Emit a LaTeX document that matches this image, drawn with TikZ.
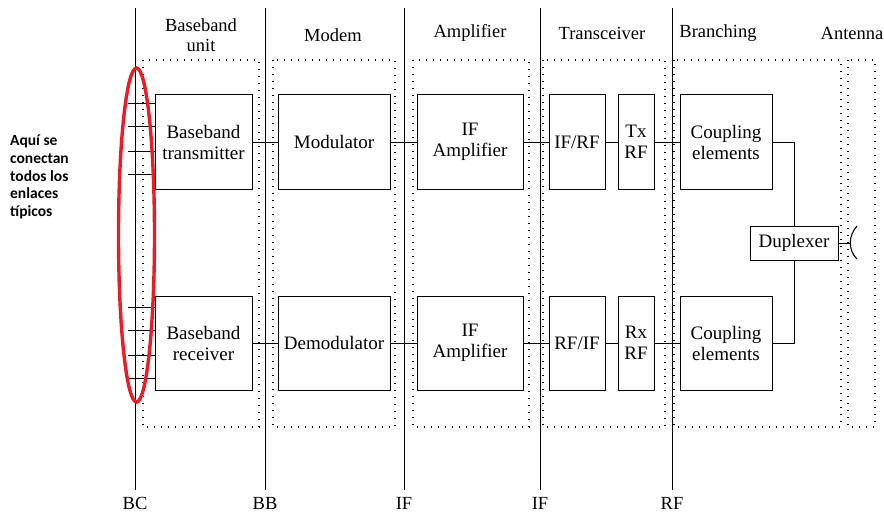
\documentclass[tikz,border=0pt]{standalone}
\usepackage{fontspec}
\setmainfont{Liberation Serif}
\newfontfamily\notefont{Carlito}
\definecolor{ovalred}{RGB}{236,28,36}
\begin{document}
\begin{tikzpicture}[x=1pt,y=-1pt,
  blk/.style={draw,line width=0.8pt,align=center,inner sep=1pt,
    font=\fontsize{19}{21}\selectfont},
  hdr/.style={align=center,font=\fontsize{18.5}{20}\selectfont},
  lbl/.style={font=\fontsize{18.5}{20}\selectfont},
  wire/.style={line width=0.8pt},
  dotbox/.style={line width=1.2pt,dash pattern=on 1.3pt off 5.7pt},
  oval/.style={draw=ovalred,line width=3.4pt}]
\useasboundingbox (0,0) rectangle (884,515);
% separating lines
\foreach \n/\x/\t in {bc/135/BC,bb/265/BB,ifa/404/IF,ifb/540/IF,rf/672/RF}{
  \coordinate (\n top) at (\x,8);
  \coordinate (\n bot) at (\x,490);
  \draw[wire] (\n top) -- (\n bot);
  \node[lbl] (\n lab) at (\x,503) {\t};
}
% headers
\node[hdr] (h1) at (201,35) {Baseband\\unit};
\node[hdr] (h2) at (333,35) {Modem};
\node[hdr] (h3) at (470,33) {Amplifier};
\node[hdr] (h4) at (602,33) {Transceiver};
\node[hdr] (h5) at (718,33) {Branching};
\node[hdr] (h6) at (852,33) {Antenna};
% dotted boxes
\draw[dotbox] (143,60) rectangle (259,427);
\draw[dotbox] (273,60) rectangle (395,427);
\draw[dotbox] (413,60) rectangle (529,427);
\draw[dotbox] (543,60) rectangle (665,427);
\draw[dotbox] (674,60) rectangle (841,427);
\draw[dotbox] (848,60) rectangle (875,427);
% blocks upper
\node[blk,minimum width=97pt,minimum height=95pt] (btx) at (203.5,142) {Baseband\\transmitter};
\node[blk,minimum width=112pt,minimum height=95pt] (mod) at (334,142) {Modulator};
\node[blk,minimum width=106pt,minimum height=95pt] (ifu) at (470,142) {IF\\Amplifier};
\node[blk,minimum width=56pt,minimum height=95pt] (ifrf) at (577,142) {IF/RF};
\node[blk,minimum width=36pt,minimum height=95pt] (txrf) at (636,142) {Tx\\RF};
\node[blk,minimum width=92pt,minimum height=95pt] (cpu) at (726,142) {Coupling\\elements};
% blocks lower
\node[blk,minimum width=97pt,minimum height=94pt] (brx) at (203.5,343) {Baseband\\receiver};
\node[blk,minimum width=112pt,minimum height=94pt] (dem) at (334,343) {Demodulator};
\node[blk,minimum width=106pt,minimum height=94pt] (ifl) at (470,343) {IF\\Amplifier};
\node[blk,minimum width=56pt,minimum height=94pt] (rfif) at (577,343) {RF/IF};
\node[blk,minimum width=36pt,minimum height=94pt] (rxrf) at (636,343) {Rx\\RF};
\node[blk,minimum width=92pt,minimum height=94pt] (cpl) at (726,343) {Coupling\\elements};
% duplexer
\node[blk,minimum width=88pt,minimum height=34pt] (dup) at (794,243) {Duplexer};
% connectors
\draw[wire] (btx) -- (mod);
\draw[wire] (mod) -- (ifu);
\draw[wire] (ifu) -- (ifrf);
\draw[wire] (ifrf) -- (txrf);
\draw[wire] (txrf) -- (cpu);
\draw[wire] (brx) -- (dem);
\draw[wire] (dem) -- (ifl);
\draw[wire] (ifl) -- (rfif);
\draw[wire] (rfif) -- (rxrf);
\draw[wire] (rxrf) -- (cpl);
\draw[wire] (cpu.east) -| (dup.north);
\draw[wire] (cpl.east) -| (dup.south);
% antenna
\coordinate (ant) at (850,243);
\coordinate (antt) at (857,226);
\coordinate (antb) at (857,259);
\draw[wire] (dup.east) -- (ant);
\draw[line width=1.1pt] (antt) .. controls (848,236) and (848,250) .. (antb);
% ticks
\foreach \y in {103,126,151,174}{
  \coordinate (tk\y) at (128,\y);
  \draw[wire] (tk\y) -- (btx.west |- tk\y);
}
\foreach \y in {307,330,355,378}{
  \coordinate (tk\y) at (128,\y);
  \draw[wire] (tk\y) -- (brx.west |- tk\y);
}
% red oval
\draw[oval] (136.5,235) ellipse [x radius=18, y radius=167];
% note
\node[anchor=north west,align=left,inner sep=0pt,
  font=\notefont\bfseries\fontsize{15.5}{17.6}\selectfont] (note) at (10,135)
  {Aquí se\\conectan\\todos los\\enlaces\\típicos};
\end{tikzpicture}
\end{document}
